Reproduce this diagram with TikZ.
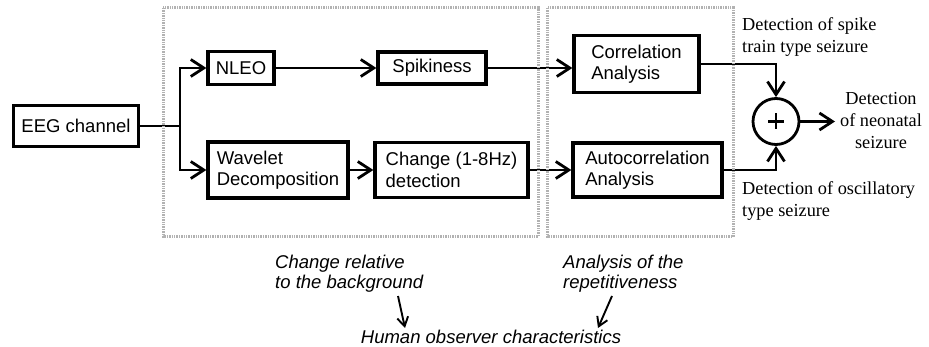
\documentclass[tikz,border=0pt]{standalone}
\usepackage{fontspec}
\setmainfont{Liberation Serif}
\setsansfont{Liberation Sans}
\usetikzlibrary{arrows.meta}
\tikzset{
  blk/.style={draw, line width=3.3pt, font=\sffamily\fontsize{18.5}{21.5}\selectfont, inner sep=0pt, align=left},
  conn/.style={line width=2.8pt, -{Straight Barb[length=13pt,width=17pt,line width=2.8pt]}},
  frame/.style={draw=gray!60, line width=3pt, dash pattern=on 1.4pt off 1pt},
  lbl/.style={font=\rmfamily\fontsize{18.3}{22}\selectfont, inner sep=0pt},
  note/.style={font=\sffamily\itshape\fontsize{18.5}{20}\selectfont, align=left, inner sep=0pt},
  small/.style={line width=1.9pt, -{Straight Barb[length=9pt,width=11pt,line width=1.9pt]}},
}
\begin{document}
\begin{tikzpicture}[x=1pt,y=-1pt]
\useasboundingbox (0,0) rectangle (929,347);
\fill[white] (0,0) rectangle (929,347);

% blocks
\node[blk, minimum width=125pt, minimum height=41pt] (eeg) at (76,126) {EEG channel};
\node[blk, minimum width=66pt, minimum height=33pt] (nleo) at (241,68) {NLEO};
\node[blk, minimum width=108pt, minimum height=32pt] (spk) at (432,68) {Spikiness};
\node[blk, minimum width=140pt, minimum height=56pt] (wav) at (278,170) {Wavelet\\Decomposition};
\node[blk, minimum width=153pt, minimum height=55pt] (chg) at (451.5,170) {Change (1-8Hz)\\detection};
\node[blk, minimum width=125pt, minimum height=57pt] (corr) at (636.5,64) {Correlation\\Analysis};
\node[blk, minimum width=149pt, minimum height=54pt] (auto) at (647.5,170) {Autocorrelation\\Analysis};
\node[circle, draw, line width=2.8pt, minimum size=46pt, inner sep=0pt] (sum) at (776,121.5) {};
\draw[line width=2.4pt] (sum.center) ++(-8,0) -- ++(16,0);
\draw[line width=2.4pt] (sum.center) ++(0,-8) -- ++(0,16);

% connectors
\coordinate (j) at (180,126);
\draw[line width=2.8pt] (eeg.east) -- (j);
\draw[conn] (j) |- (nleo.west);
\draw[conn] (j) |- (wav.west);
\draw[conn] (nleo.east) -- (spk.west);
\draw[conn] (wav.east) -- (chg.west);
\draw[conn] (spk.east) -- (corr.west |- spk.east);
\draw[conn] (chg.east) -- (auto.west);
\draw[conn] (corr.east) -| (sum.north);
\draw[conn] (auto.east) -| (sum.south);
\coordinate (out) at (835,121.5);
\draw[conn] (sum.east) -- (out);

% frames
\draw[frame] (163,8) rectangle (538,237);
\draw[frame] (547,8) rectangle (733,237);

% labels
\node[lbl, anchor=west, align=left] (l1) at (742,37) {Detection of spike\\train type seizure};
\node[lbl, anchor=west, align=left] (l2) at (742,201) {Detection of oscillatory\\type seizure};
\node[lbl, align=center] (l3) at (881,121) {Detection\\of neonatal\\seizure};

% bottom notes
\node[note, anchor=west] (n1) at (275,274) {Change relative\\to the background};
\node[note, anchor=west] (n2) at (563,274) {Analysis of the\\repetitiveness};
\node[note] (hum) at (491,337) {Human observer characteristics};
\coordinate (a1) at (398,296);
\coordinate (a2) at (612,296);
\draw[small] (a1) -- (405,328);
\draw[small] (a2) -- (598,328);
\end{tikzpicture}
\end{document}
